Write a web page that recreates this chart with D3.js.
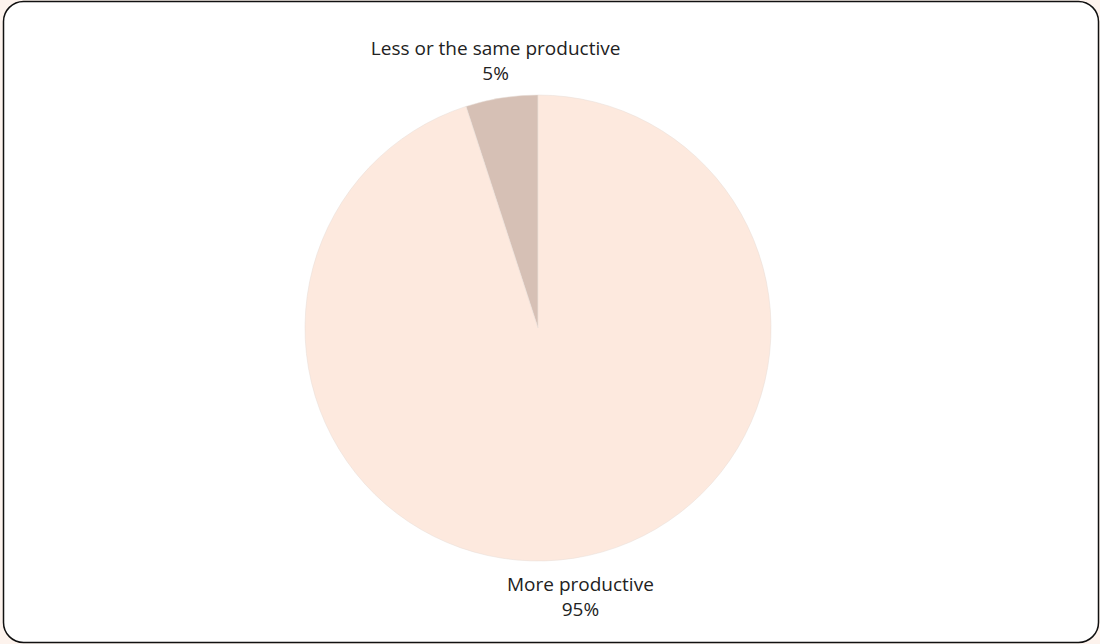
<!DOCTYPE html>
<html>
<head>
<meta charset="utf-8">
<script src="https://cdn.jsdelivr.net/npm/d3@7"></script>
<style>
  html, body { margin: 0; padding: 0; background: #fdf3ed; }
  svg { display: block; }
</style>
</head>
<body>
<script>
  // chart data
  const labels = ["Less or the same productive", "More productive"];
  const values = [5, 95];
  const colors = ["#d6c0b5", "#fde9de"];

  const width = 1100;
  const height = 644;
  const radius = 233;
  const cx = 538, cy = 328;

  const svg = d3.select("body")
    .append("svg")
    .attr("width", width)
    .attr("height", height);

  // card frame
  svg.append("rect")
    .attr("x", 3.5)
    .attr("y", 1.5)
    .attr("width", width - 5)
    .attr("height", height - 3)
    .attr("rx", 20)
    .attr("fill", "#fff")
    .attr("stroke", "#111")
    .attr("stroke-width", 1.5);

  const data = labels.map((d, i) => ({ label: d, value: values[i], color: colors[i] }));

  // slices go counterclockwise from 12 o'clock
  const pie = d3.pie()
    .value(d => d.value)
    .sort(null)
    .startAngle(0)
    .endAngle(-2 * Math.PI);

  const arc = d3.arc().innerRadius(0).outerRadius(radius);
  const labelArc = d3.arc().innerRadius(271).outerRadius(271);

  const g = svg.append("g")
    .attr("transform", `translate(${cx},${cy})`);

  const arcs = pie(data);

  g.selectAll("path")
    .data(arcs)
    .join("path")
      .attr("d", arc)
      .attr("fill", d => d.data.color)
      .attr("stroke", "#e6dcd6")
      .attr("stroke-width", 0.5);

  const label = g.selectAll("text")
    .data(arcs)
    .join("text")
      .attr("transform", d => `translate(${labelArc.centroid(d)})`)
      .attr("text-anchor", "middle")
      .style("font-family", "'Open Sans', sans-serif")
      .style("font-size", "19px")
      .attr("fill", "#222");

  label.append("tspan")
    .attr("x", 0)
    .attr("y", -5)
    .text(d => d.data.label);

  label.append("tspan")
    .attr("x", 0)
    .attr("y", 20)
    .text(d => `${d.data.value}%`);
</script>
</body>
</html>
